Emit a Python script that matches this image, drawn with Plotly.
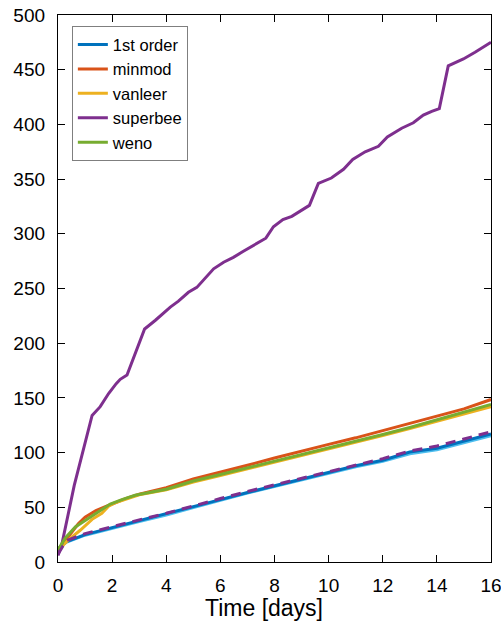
import plotly.graph_objects as go

# Cumulative quantity vs. time for several advection schemes
t_first = [0, 0.3, 1, 2, 3, 4, 5, 6, 7, 8, 9, 10, 11, 12, 13, 14, 15, 16]
first_order = [12, 18.5, 25, 31.4, 37.5, 43.6, 50.5, 57, 63.5, 69.5, 75.5, 82, 88, 93, 100.5, 104, 110.5, 117]
first_order_alt = [12, 18, 24.5, 31, 37, 43, 50, 56.5, 63, 69, 75, 81, 87, 92, 99, 102.5, 109, 115.5]
superbee_alt = [7, 19.5, 26, 32.5, 38.5, 44.5, 51.5, 58, 64.5, 70.5, 76.5, 83, 89, 94.5, 101.5, 106, 112.5, 119]

t_minmod = [0, 0.25, 0.5, 0.75, 1, 1.4, 1.75, 2, 2.5, 3, 4, 5, 6, 7, 8, 9, 10, 11, 12, 13, 14, 15, 16]
minmod = [11, 19, 27, 35, 41, 47, 50.5, 53, 58, 62, 68, 76, 82, 88.5, 95, 101.5, 107.5, 113.5, 120, 127, 133, 140, 148.5]

t_vanleer = [0, 0.45, 0.82, 1.26, 1.62, 1.87, 2.1, 2.5, 3, 4, 5, 6, 7, 8, 9, 10, 11, 12, 13, 14, 15, 16]
vanleer = [11, 21.6, 29, 39, 44.5, 51, 54, 57.5, 61.5, 66, 73, 79, 85, 91, 97, 103, 109, 115.5, 122, 128.5, 135.5, 142]

t_weno = [0, 0.27, 0.64, 1, 1.5, 1.93, 2.36, 2.85, 4, 5, 6, 7, 8, 9, 10, 11, 12, 13, 14, 15, 16]
weno = [11, 22, 32, 38, 46, 53, 57, 61, 66.5, 74, 80, 86, 92, 98, 104, 110, 116.5, 123, 130, 137, 144]

t_superbee = [0, 0.15, 0.6, 1.0, 1.26, 1.56, 1.87, 2.15, 2.3, 2.55, 3.2, 3.6, 4.15, 4.45,
              4.82, 5.13, 5.75, 6.12, 6.48, 6.85, 7.29, 7.68, 7.96, 8.31, 8.64, 8.95, 9.29,
              9.62, 10.1, 10.55, 10.89, 11.35, 11.84, 12.17, 12.7, 13.13, 13.5, 13.81, 14.09,
              14.42, 14.98, 15.41, 16]
superbee = [6, 17, 70, 110, 134, 142, 154, 163, 167, 171, 213, 221, 233, 238.5,
            246.5, 251, 268, 274, 278.5, 284, 290.7, 296, 306.5, 313, 316, 320.5, 326,
            346, 351, 359, 368, 375, 380, 388.5, 396.5, 401.5, 408.5, 412, 414.5,
            453.5, 459.8, 466, 475]

x_ticks = [0, 2, 4, 6, 8, 10, 12, 14, 16]
y_ticks = [0, 50, 100, 150, 200, 250, 300, 350, 400, 450, 500]
x_title = "Time [days]"

BLUE = "#0072BD"
ORANGE = "#D95319"
YELLOW = "#EDB120"
PURPLE = "#7E2F8E"
GREEN = "#77AC30"
CYAN = "#4DBEEE"
LW = 3

fig = go.Figure()
fig.add_trace(go.Scatter(x=t_first, y=first_order_alt, mode="lines",
                         line=dict(color=CYAN, width=LW), showlegend=False))
fig.add_trace(go.Scatter(x=t_first, y=first_order, mode="lines", name="1st order",
                         line=dict(color=BLUE, width=LW)))
fig.add_trace(go.Scatter(x=t_minmod, y=minmod, mode="lines", name="minmod",
                         line=dict(color=ORANGE, width=LW)))
fig.add_trace(go.Scatter(x=t_vanleer, y=vanleer, mode="lines", name="vanleer",
                         line=dict(color=YELLOW, width=LW)))
fig.add_trace(go.Scatter(x=t_superbee, y=superbee, mode="lines", name="superbee",
                         line=dict(color=PURPLE, width=LW)))
fig.add_trace(go.Scatter(x=t_weno, y=weno, mode="lines", name="weno",
                         line=dict(color=GREEN, width=LW)))
fig.add_trace(go.Scatter(x=t_first, y=superbee_alt, mode="lines",
                         line=dict(color=PURPLE, width=LW, dash="10px,7px"),
                         showlegend=False))

axis_common = dict(
    showgrid=False, zeroline=False, showline=True, linecolor="black", linewidth=1.3,
    mirror="ticks", ticks="inside", ticklen=7, tickwidth=1, tickcolor="black",
    tickfont=dict(size=19, color="black"), automargin=False, ticklabeloverflow="allow",
)

fig.update_layout(
    width=501, height=626,
    margin=dict(l=58, r=10, t=15, b=64),
    paper_bgcolor="white", plot_bgcolor="white",
    font=dict(family="Liberation Sans, Arial, Helvetica, sans-serif", color="black"),
    xaxis=dict(range=[0, 16], tickvals=x_ticks, ticklabelstandoff=6, **axis_common),
    yaxis=dict(range=[0, 500], tickvals=y_ticks, ticklabelstandoff=8, **axis_common),
    legend=dict(x=0.032, y=0.9795, xanchor="left", yanchor="top",
                bgcolor="white", bordercolor="#7f7f7f", borderwidth=1,
                font=dict(size=16.5, color="black")),
)

# x-axis label, placed as a paper-anchored annotation below the tick labels
fig.add_annotation(text=x_title, xref="paper", yref="paper", x=0.476, y=-0.084,
                   xanchor="center", yanchor="middle", showarrow=False,
                   font=dict(size=23, color="black"))

fig.write_html("out.html")
